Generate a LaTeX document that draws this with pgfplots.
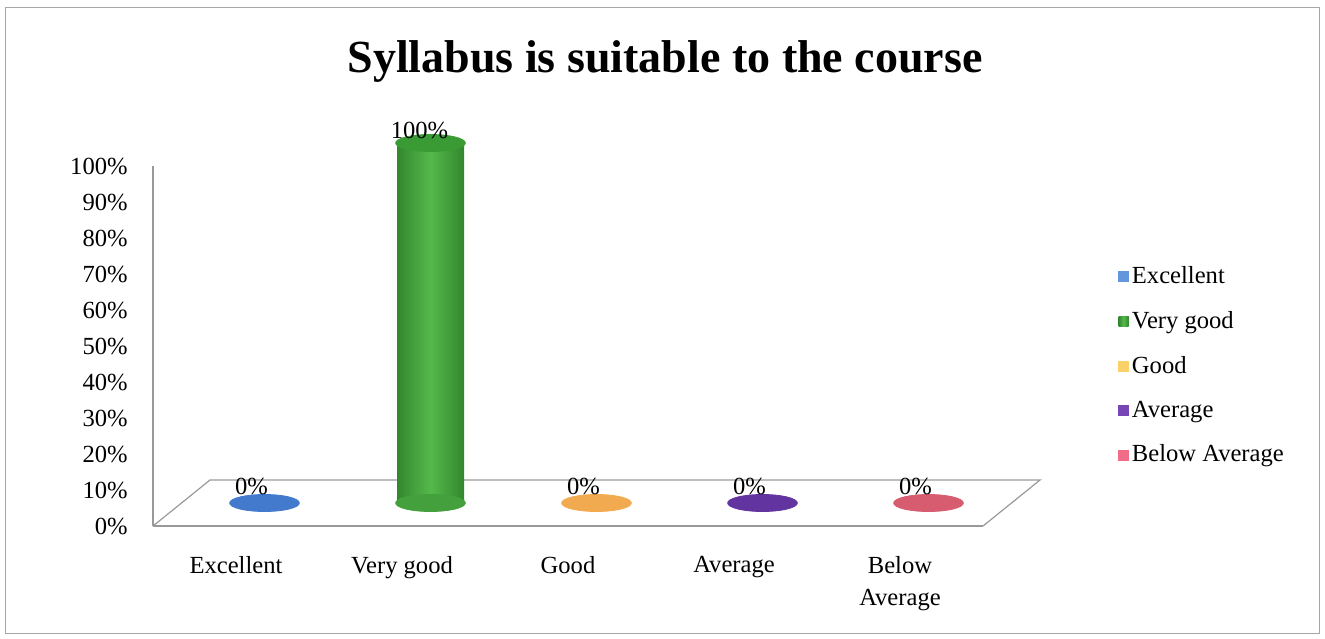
\documentclass[border=0pt]{standalone}
\usepackage{pgfplots}
\pgfplotsset{compat=1.18}
\usepackage{fontspec}
\setmainfont{Liberation Serif}
\definecolor{ellblue}{RGB}{68,122,205}
\definecolor{legblue}{RGB}{100,150,222}
\definecolor{gdark}{RGB}{50,135,45}
\definecolor{gmid}{RGB}{85,185,75}
\definecolor{gbot}{RGB}{68,160,60}
\definecolor{gtop}{RGB}{58,155,52}
\definecolor{leggreen}{RGB}{80,175,75}
\definecolor{ellorange}{RGB}{242,170,80}
\definecolor{legyellow}{RGB}{250,208,105}
\definecolor{ellpurple}{RGB}{98,52,160}
\definecolor{legpurple}{RGB}{120,70,180}
\definecolor{ellred}{RGB}{215,92,112}
\definecolor{legpink}{RGB}{240,108,135}
\pgfplotsset{
  /pgf/number format/assume math mode=true,
  ell/.style={only marks, color=#1, mark=*, mark size=4.25pt, mark options={xscale=4.1}},
  zl/.style={point meta=y, nodes near coords={\pgfmathprintnumber{\pgfplotspointmeta}\%},
    every node near coord/.append style={font=\fontsize{12.3}{14}\selectfont, text=black, anchor=center, xshift=-6.5pt, yshift=8.5pt}},
  sq/.style={legend image code/.code={\fill[#1] (0pt,-2.5pt) rectangle (5pt,2.5pt);}},
}
\begin{document}
\begin{tikzpicture}
\useasboundingbox (0,0) rectangle (662.5pt,319pt);
\draw[gray!70, line width=0.5pt] (2.5pt,2.5pt) rectangle (659.5pt,315pt);
\node[font=\fontsize{23}{28}\selectfont\bfseries] at (332.5pt,288pt) {Syllabus is suitable to the course};
% floor
\draw[gray!80, line width=0.6pt] (76.5pt,56pt) -- (105pt,79pt) -- (520pt,79pt) -- (491.5pt,56pt);
\begin{axis}[
  at={(76.5pt,56pt)}, anchor=south west, scale only axis, width=415pt, height=180pt,
  xmin=-0.5, xmax=4.5, ymin=0, ymax=100,
  axis x line*=bottom, axis y line*=left,
  axis line style={draw=gray!80, line width=0.6pt},
  xtick={0,1,2,3,4},
  xticklabels={Excellent,Very good,Good,Average,{Below\\Average}},
  xticklabel style={align=center, anchor=north, inner sep=0pt, yshift=-15pt},
  ytick={0,10,...,100},
  yticklabel={\pgfmathprintnumber{\tick}\%},
  yticklabel style={anchor=east, inner sep=0pt, xshift=-12.5pt},
  major tick length=0pt,
  tick label style={font=\fontsize{12.3}{16}\selectfont},
]
\addplot[draw=none, forget plot] coordinates {(0,0)};
\end{axis}
\begin{axis}[
  at={(90.75pt,67.5pt)}, anchor=south west, scale only axis, width=415pt, height=180pt,
  xmin=-0.5, xmax=4.5, ymin=0, ymax=100,
  hide axis, clip=false,
  legend cell align=left,
  legend style={at={(1.128,0.667)}, anchor=north west, draw=none, fill=none,
    font=\fontsize{12.3}{14}\selectfont, row sep=9.4pt, inner sep=0pt, nodes={inner sep=1.5pt}},
]
\addplot[ell=ellblue, zl, sq=legblue] coordinates {(0,0)};
\addplot[forget plot, ell=gbot] coordinates {(1,0)};
\addplot[ybar, bar width=33.5pt, draw=none, left color=gdark, right color=gdark, middle color=gmid, sq=leggreen] coordinates {(1,100)};
\addplot[forget plot, ell=gtop, zl, every node near coord/.append style={xshift=1pt, yshift=-2pt}] coordinates {(1,100)};
\addplot[ell=ellorange, zl, sq=legyellow] coordinates {(2,0)};
\addplot[ell=ellpurple, zl, sq=legpurple] coordinates {(3,0)};
\addplot[ell=ellred, zl, sq=legpink] coordinates {(4,0)};
\legend{Excellent,Very good,Good,Average,Below Average}
\end{axis}
\end{tikzpicture}
\end{document}
